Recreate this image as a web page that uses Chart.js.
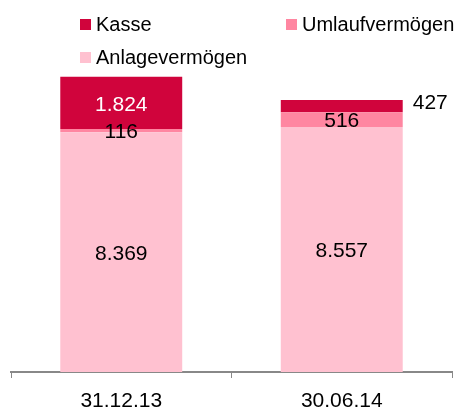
<!DOCTYPE html>
<html>
<head>
<meta charset="utf-8">
<script src="https://cdn.jsdelivr.net/npm/chart.js@4"></script>
<style>
  body { margin: 0; background: #fff; }
  #wrap { width: 466px; height: 409px; }
</style>
</head>
<body>
<div id="wrap"><canvas id="grafico" width="466" height="409"></canvas></div>
<script>
// dados
const stichtage = ["31.12.13", "30.06.14"];
const anlagevermoegen = [8369, 8557];
const umlaufvermoegen = [116, 516];
const kasse = [1824, 427];

const fonte = "'Liberation Sans', Arial, sans-serif";
const corKasse = "#d0043c";
const corUmlauf = "#ff86a1";
const corAnlage = "#ffc1d0";

function fmt(v) {
    return v.toLocaleString("de-DE");
}

// legenda em duas colunas, como no original
const legendaPlugin = {
    id: "legendaPlugin",
    afterDraw(chart) {
        const ctx = chart.ctx;
        const itens = [
            { ds: 2, x: 80, y: 19 },
            { ds: 1, x: 286, y: 19 },
            { ds: 0, x: 80, y: 52 }
        ];
        ctx.save();
        ctx.font = "20px " + fonte;
        ctx.textBaseline = "middle";
        itens.forEach(it => {
            const ds = chart.data.datasets[it.ds];
            ctx.fillStyle = ds.backgroundColor;
            ctx.fillRect(it.x, it.y, 11, 11);
            ctx.fillStyle = "#000";
            ctx.fillText(ds.label, it.x + 16, it.y + 6);
        });
        ctx.restore();
    }
};

// rótulos dos valores
const rotulosPlugin = {
    id: "rotulosPlugin",
    afterDatasetsDraw(chart) {
        const ctx = chart.ctx;
        ctx.save();
        ctx.font = "21px " + fonte;
        ctx.textBaseline = "middle";
        chart.data.datasets.forEach((ds, i) => {
            chart.getDatasetMeta(i).data.forEach((bar, j) => {
                const valor = ds.data[j];
                const altura = bar.base - bar.y;
                const topo = i === chart.data.datasets.length - 1;
                if (topo && altura < 20) {
                    ctx.textAlign = "left";
                    ctx.fillStyle = "#000";
                    ctx.fillText(fmt(valor), bar.x + bar.width / 2 + 10, bar.y + 3);
                } else {
                    ctx.textAlign = "center";
                    ctx.fillStyle = topo ? "#fff" : "#000";
                    ctx.fillText(fmt(valor), bar.x, (bar.y + bar.base) / 2 + 2);
                }
            });
        });
        ctx.restore();
    }
};

const ctx = document.getElementById("grafico").getContext("2d");
const grafico = new Chart(ctx, {
    type: "bar",
    data: {
        labels: stichtage,
        datasets: [
            { label: "Anlagevermögen", data: anlagevermoegen, backgroundColor: corAnlage },
            { label: "Umlaufvermögen", data: umlaufvermoegen, backgroundColor: corUmlauf },
            { label: "Kasse", data: kasse, backgroundColor: corKasse }
        ]
    },
    options: {
        responsive: false,
        animation: false,
        layout: { padding: { top: 57, left: 11, right: 14, bottom: -16 } },
        datasets: {
            bar: { barPercentage: 0.553, categoryPercentage: 1 }
        },
        plugins: {
            legend: { display: false },
            tooltip: { enabled: false }
        },
        scales: {
            x: {
                stacked: true,
                grid: {
                    offset: true,
                    drawOnChartArea: false,
                    drawTicks: true,
                    tickLength: 6,
                    color: "#888"
                },
                border: { display: true, color: "#888", width: 2 },
                ticks: {
                    color: "#000",
                    padding: 13,
                    font: { family: fonte, size: 21, lineHeight: 1 }
                }
            },
            y: {
                stacked: true,
                display: false,
                min: 0,
                max: 11000
            }
        }
    },
    plugins: [legendaPlugin, rotulosPlugin]
});
</script>
</body>
</html>
